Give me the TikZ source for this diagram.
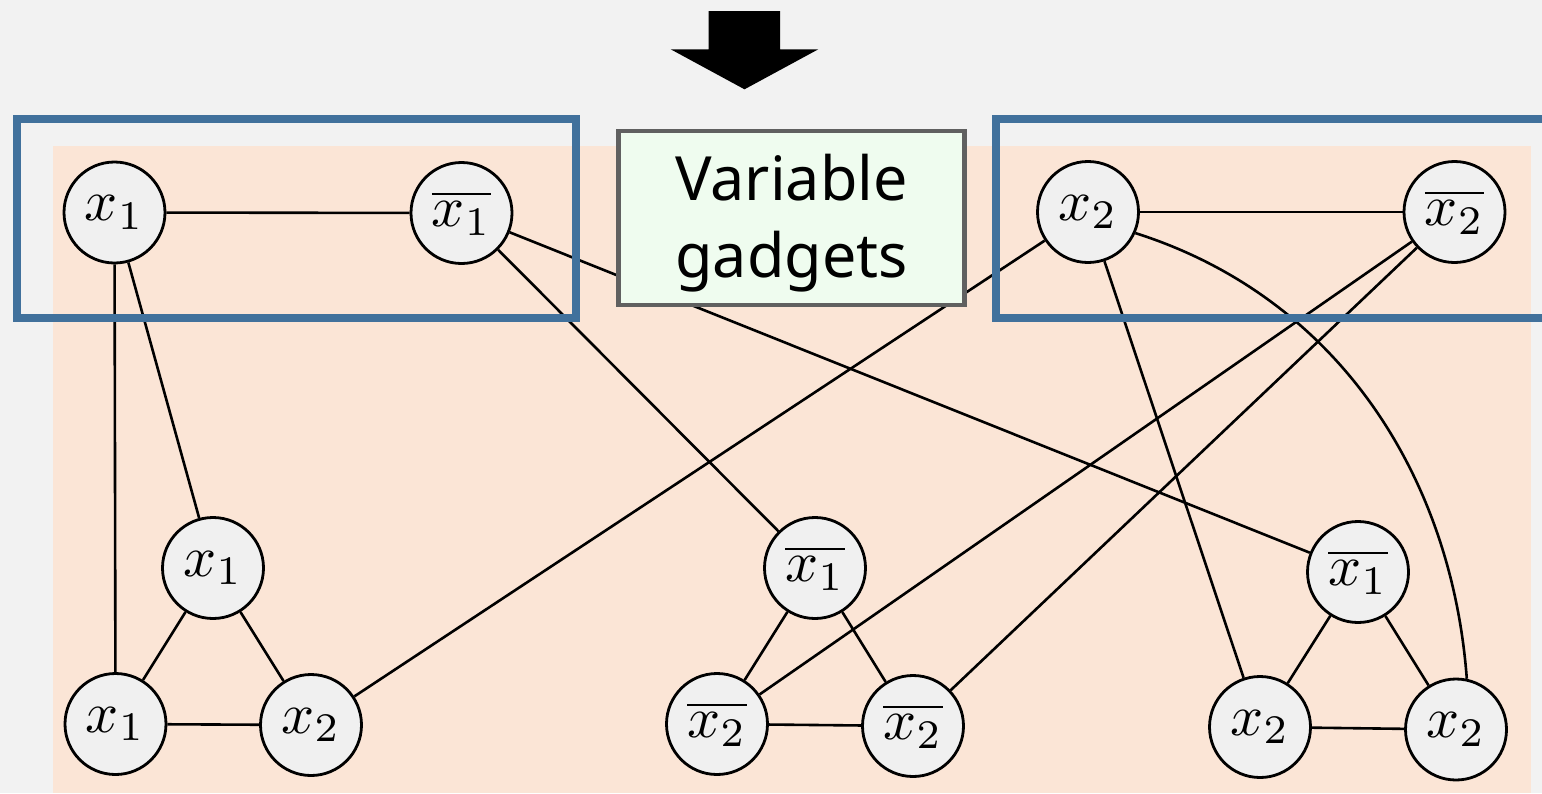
\documentclass[tikz,border=0pt]{standalone}
\usepackage{graphicx}
\usepackage{fontspec}
\newfontfamily\labelfont{Noto Sans}
\definecolor{bggray}{HTML}{F2F2F2}
\definecolor{peach}{HTML}{FBE5D6}
\definecolor{nodefill}{HTML}{F0F0F0}
\definecolor{gadgetblue}{HTML}{41719C}
\definecolor{labelfill}{HTML}{EFFCEF}
\definecolor{labelborder}{HTML}{606060}
\newcommand{\litmath}[1]{\scalebox{5.8}{$#1$}}
\tikzset{
  vnode/.style={circle, draw=black, fill=nodefill, line width=2.8pt, minimum size=101pt, inner sep=0pt,
    font=\fontsize{10}{12}\selectfont},
  edge/.style={draw=black, line width=2.6pt},
  gadget/.style={draw=gadgetblue, line width=8pt},
  labelbox/.style={draw=labelborder, fill=labelfill, line width=4.7pt, minimum width=346pt, minimum height=174pt,
    inner sep=0pt, align=center, font=\labelfont\fontsize{61}{77}\selectfont},
}
\begin{document}
\begin{tikzpicture}[x=1pt,y=-1pt]
\useasboundingbox (0,0) rectangle (1542,793);
\fill[bggray] (0,0) rectangle (1542,793);
\fill[peach] (53,146) rectangle (1531,793);
% nodes
\node[vnode] (A) at (114.5,212.5) {\litmath{x_1}};
\node[vnode] (B) at (461.5,213) {\litmath{\overline{x_1}}};
\node[vnode] (C) at (1088,212) {\litmath{x_2}};
\node[vnode] (D) at (1454.5,212) {\litmath{\overline{x_2}}};
\node[vnode] (T1t) at (213,568) {\litmath{x_1}};
\node[vnode] (T1l) at (115.5,724) {\litmath{x_1}};
\node[vnode] (T1r) at (311,725) {\litmath{x_2}};
\node[vnode] (T2t) at (815,568) {\litmath{\overline{x_1}}};
\node[vnode] (T2l) at (717,724) {\litmath{\overline{x_2}}};
\node[vnode] (T2r) at (913,726) {\litmath{\overline{x_2}}};
\node[vnode] (T3t) at (1358,572) {\litmath{\overline{x_1}}};
\node[vnode] (T3l) at (1260,727) {\litmath{x_2}};
\node[vnode] (T3r) at (1456,729.5) {\litmath{x_2}};
% edges
\path[edge] (A) -- (B);
\path[edge] (C) -- (D);
\path[edge] (A) -- (T1l);
\path[edge] (A) -- (T1t);
\path[edge] (T1t) -- (T1l);
\path[edge] (T1t) -- (T1r);
\path[edge] (T1l) -- (T1r);
\path[edge] (T2t) -- (T2l);
\path[edge] (T2t) -- (T2r);
\path[edge] (T2l) -- (T2r);
\path[edge] (T3t) -- (T3l);
\path[edge] (T3t) -- (T3r);
\path[edge] (T3l) -- (T3r);
\path[edge] (B) -- (T2t);
\path[edge] (B) -- (T3t);
\path[edge] (C) -- (T1r);
\path[edge] (C) -- (T3l);
\path[edge] (D) -- (T2l);
\path[edge] (D) -- (T2r);
\path[edge] (C.-24) .. controls (1340,298) and (1452,479) .. (T3r.78);
% gadget frames
\draw[gadget] (17,119) rectangle (576,318);
\draw[gadget] (996,119) rectangle (1560,318);
% label
\node[labelbox] (lbl) at (791.5,218) {\raisebox{-6pt}[\height][\depth]{\begin{tabular}{@{}c@{}}Variable\\gadgets\end{tabular}}};
% arrow
\fill[black] (708.7,11) -- (780,11) -- (780,49.3) -- (818.3,49.3) -- (744.5,89.3) -- (670.7,49.3) -- (708.7,49.3) -- cycle;
\end{tikzpicture}
\end{document}
